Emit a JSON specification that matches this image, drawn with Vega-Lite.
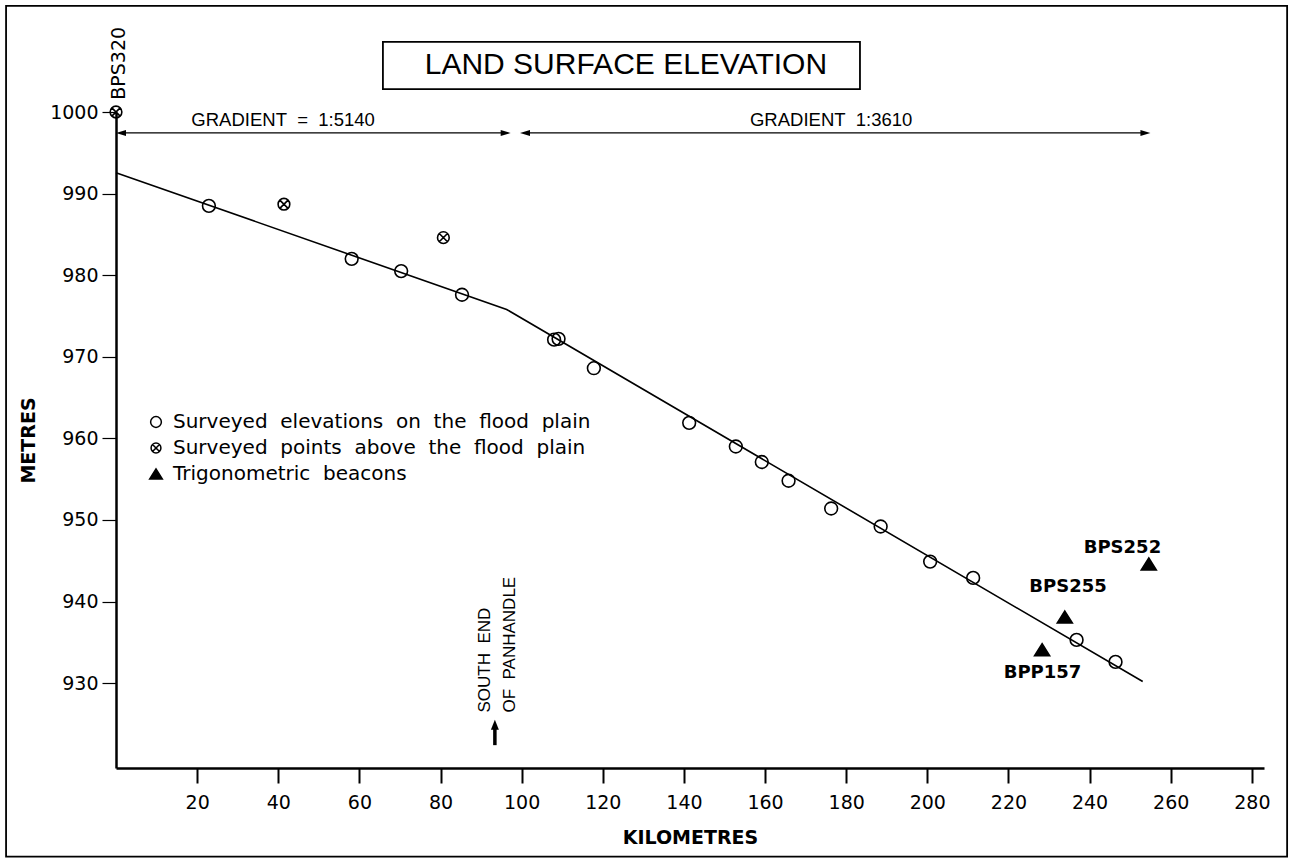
{
  "$schema": "https://vega.github.io/schema/vega-lite/v6.json",
  "width": 1148,
  "height": 656,
  "autosize": {"type": "none"},
  "padding": {"left": 116, "top": 112, "right": 26, "bottom": 90},
  "background": "white",
  "config": {"view": {"stroke": null}, "axis": {"grid": false}},
  "datasets": {
    "boxes": [
      {"name": "frame", "km": -27.1, "km2": 288.7, "m": 908.75, "m2": 1013.0},
      {"name": "titlebox", "km": 65.8, "km2": 183.4, "m": 1002.8, "m2": 1008.6}
    ],
    "fit": [
      {"km": 0, "m": 992.56},
      {"km": 96.3, "m": 975.8},
      {"km": 253.1, "m": 930.2}
    ],
    "arrows": [
      {"km": 1, "km2": 96.5, "m": 997.43},
      {"km": 100.5, "km2": 254, "m": 997.43}
    ],
    "heads": [
      {"km": 0, "m": 997.43, "dir": "left"},
      {"km": 99.6, "m": 997.43, "dir": "left"},
      {"km": 97.3, "m": 997.43, "dir": "right"},
      {"km": 255, "m": 997.43, "dir": "right"}
    ],
    "pan": [
      {"km": 93.4, "m": 922.4, "m2": 924.6}
    ],
    "panhead": [
      {"km": 93.4, "m": 925.5}
    ],
    "points": [
      {"km": 22.9, "m": 988.5, "type": "Surveyed elevations on the flood plain"},
      {"km": 58.1, "m": 982.0, "type": "Surveyed elevations on the flood plain"},
      {"km": 70.3, "m": 980.5, "type": "Surveyed elevations on the flood plain"},
      {"km": 85.3, "m": 977.6, "type": "Surveyed elevations on the flood plain"},
      {"km": 108.0, "m": 972.1, "type": "Surveyed elevations on the flood plain"},
      {"km": 109.1, "m": 972.2, "type": "Surveyed elevations on the flood plain"},
      {"km": 117.8, "m": 968.6, "type": "Surveyed elevations on the flood plain"},
      {"km": 141.3, "m": 961.9, "type": "Surveyed elevations on the flood plain"},
      {"km": 152.8, "m": 959.0, "type": "Surveyed elevations on the flood plain"},
      {"km": 159.2, "m": 957.1, "type": "Surveyed elevations on the flood plain"},
      {"km": 165.8, "m": 954.8, "type": "Surveyed elevations on the flood plain"},
      {"km": 176.3, "m": 951.4, "type": "Surveyed elevations on the flood plain"},
      {"km": 188.5, "m": 949.2, "type": "Surveyed elevations on the flood plain"},
      {"km": 200.7, "m": 944.9, "type": "Surveyed elevations on the flood plain"},
      {"km": 211.3, "m": 942.9, "type": "Surveyed elevations on the flood plain"},
      {"km": 236.8, "m": 935.3, "type": "Surveyed elevations on the flood plain"},
      {"km": 246.4, "m": 932.6, "type": "Surveyed elevations on the flood plain"},
      {"km": 0, "m": 1000, "type": "Surveyed points above the flood plain"},
      {"km": 41.4, "m": 988.7, "type": "Surveyed points above the flood plain"},
      {"km": 80.7, "m": 984.6, "type": "Surveyed points above the flood plain"},
      {"km": 228.3, "m": 934.1, "type": "Trigonometric beacons"},
      {"km": 233.9, "m": 938.1, "type": "Trigonometric beacons"},
      {"km": 254.6, "m": 944.6, "type": "Trigonometric beacons"}
    ],
    "beaconlabels": [
      {"km": 248.1, "m": 946.6, "label": "BPS252"},
      {"km": 234.7, "m": 941.8, "label": "BPS255"},
      {"km": 228.4, "m": 931.2, "label": "BPP157"}
    ],
    "toplabel": [
      {"km": 0.75, "m": 1001.5, "label": "BPS320"}
    ],
    "panlabels": [
      {"km": 91.0, "m": 926.4, "label": "SOUTH\u00a0\u00a0END"},
      {"km": 97.1, "m": 926.4, "label": "OF\u00a0\u00a0PANHANDLE"}
    ],
    "gradients": [
      {"km": 41.2, "m": 999.0, "label": "GRADIENT\u00a0\u00a0=\u00a0\u00a01:5140"},
      {"km": 176.3, "m": 999.0, "label": "GRADIENT\u00a0\u00a01:3610"}
    ],
    "title": [
      {"km": 125.7, "m": 1005.7, "label": "LAND\u00a0SURFACE\u00a0ELEVATION"}
    ]
  },
  "encoding": {
    "x": {
      "field": "km", "type": "quantitative",
      "scale": {"domain": [0, 283], "nice": false, "zero": false},
      "axis": {
        "values": [20, 40, 60, 80, 100, 120, 140, 160, 180, 200, 220, 240, 260, 280],
        "domainColor": "black", "domainWidth": 2.5,
        "tickColor": "black", "tickWidth": 2, "tickSize": 15,
        "labelFont": "DejaVu Sans", "labelFontSize": 19, "labelColor": "black",
        "labelPadding": 10, "labelFlush": false, "labelOverlap": false,
        "title": "KILOMETRES", "titleFont": "DejaVu Sans", "titleFontSize": 19,
        "titleFontWeight": "bold", "titleColor": "black", "titlePadding": 16
      }
    },
    "y": {
      "field": "m", "type": "quantitative",
      "scale": {"domain": [919.6, 1000], "nice": false, "zero": false},
      "axis": {
        "values": [930, 940, 950, 960, 970, 980, 990, 1000],
        "format": "d",
        "domainColor": "black", "domainWidth": 2.5,
        "tickColor": "black", "tickWidth": 1.2, "tickSize": 14,
        "labelFont": "DejaVu Sans", "labelFontSize": 19, "labelColor": "black",
        "labelPadding": 4, "labelFlush": false, "labelOverlap": false,
        "title": "METRES", "titleFont": "DejaVu Sans", "titleFontSize": 19,
        "titleFontWeight": "bold", "titleColor": "black", "titlePadding": 11
      }
    }
  },
  "layer": [
    {
      "data": {"name": "boxes"},
      "mark": {"type": "rect", "fillOpacity": 0, "stroke": "black", "strokeWidth": 1.8},
      "encoding": {"x2": {"field": "km2"}, "y2": {"field": "m2"}}
    },
    {
      "data": {"name": "fit"},
      "mark": {"type": "line", "color": "black", "strokeWidth": 1.6}
    },
    {
      "data": {"name": "arrows"},
      "mark": {"type": "rule", "color": "black", "strokeWidth": 1.2},
      "encoding": {"x2": {"field": "km2"}}
    },
    {
      "data": {"name": "heads"},
      "transform": [{"filter": "datum.dir === 'left'"}],
      "mark": {"type": "point", "shape": "M0,0L2,-0.6L2,0.6Z", "filled": true, "color": "black", "opacity": 1, "size": 100}
    },
    {
      "data": {"name": "heads"},
      "transform": [{"filter": "datum.dir === 'right'"}],
      "mark": {"type": "point", "shape": "M0,0L-2,-0.6L-2,0.6Z", "filled": true, "color": "black", "opacity": 1, "size": 100}
    },
    {
      "data": {"name": "pan"},
      "mark": {"type": "rule", "color": "black", "strokeWidth": 3.5},
      "encoding": {"y2": {"field": "m2"}}
    },
    {
      "data": {"name": "panhead"},
      "mark": {"type": "point", "shape": "M0,0L-0.8,2L0.8,2Z", "filled": true, "color": "black", "opacity": 1, "size": 100}
    },
    {
      "data": {"name": "points"},
      "mark": {"type": "point", "size": 225, "strokeWidth": 1.6, "opacity": 1},
      "encoding": {
        "shape": {
          "field": "type", "type": "nominal",
          "scale": {
            "domain": ["Surveyed elevations on the flood plain", "Surveyed points above the flood plain", "Trigonometric beacons"],
            "range": [
              "M-0.85,0A0.85,0.85,0,1,1,0.85,0A0.85,0.85,0,1,1,-0.85,0Z",
              "M-0.78,0A0.78,0.78,0,1,1,0.78,0A0.78,0.78,0,1,1,-0.78,0ZM-0.55,-0.55L0.55,0.55M-0.55,0.55L0.55,-0.55",
              "M0,-0.8L1,0.8L-1,0.8Z"
            ]
          },
          "legend": {
            "title": null, "orient": "none", "legendX": 30, "legendY": 300, "padding": 0,
            "labelFont": "DejaVu Sans", "labelFontSize": 20, "labelColor": "black", "labelLimit": 700,
            "labelExpr": "replace(datum.label, / /g, '\u00a0\u00a0')",
            "symbolSize": 160, "symbolStrokeWidth": 1.5, "symbolOpacity": 1,
            "rowPadding": 6, "labelOffset": 7
          }
        },
        "fill": {
          "field": "type", "type": "nominal",
          "scale": {
            "domain": ["Surveyed elevations on the flood plain", "Surveyed points above the flood plain", "Trigonometric beacons"],
            "range": ["transparent", "transparent", "black"]
          },
          "legend": {
            "title": null, "orient": "none", "legendX": 30, "legendY": 300, "padding": 0,
            "labelFont": "DejaVu Sans", "labelFontSize": 20, "labelColor": "black", "labelLimit": 700,
            "labelExpr": "replace(datum.label, / /g, '\u00a0\u00a0')",
            "symbolSize": 160, "symbolStrokeWidth": 1.5, "symbolOpacity": 1,
            "rowPadding": 6, "labelOffset": 7
          }
        },
        "stroke": {
          "field": "type", "type": "nominal",
          "scale": {
            "domain": ["Surveyed elevations on the flood plain", "Surveyed points above the flood plain", "Trigonometric beacons"],
            "range": ["black", "black", "black"]
          },
          "legend": {
            "title": null, "orient": "none", "legendX": 30, "legendY": 300, "padding": 0,
            "labelFont": "DejaVu Sans", "labelFontSize": 20, "labelColor": "black", "labelLimit": 700,
            "labelExpr": "replace(datum.label, / /g, '\u00a0\u00a0')",
            "symbolSize": 160, "symbolStrokeWidth": 1.5, "symbolOpacity": 1,
            "rowPadding": 6, "labelOffset": 7
          }
        }
      }
    },
    {
      "data": {"name": "beaconlabels"},
      "mark": {"type": "text", "font": "DejaVu Sans", "fontWeight": "bold", "fontSize": 18, "color": "black", "align": "center", "baseline": "middle"},
      "encoding": {"text": {"field": "label"}}
    },
    {
      "data": {"name": "toplabel"},
      "mark": {"type": "text", "font": "DejaVu Sans", "fontSize": 19, "color": "black", "align": "left", "baseline": "middle", "angle": 270},
      "encoding": {"text": {"field": "label"}}
    },
    {
      "data": {"name": "panlabels"},
      "mark": {"type": "text", "font": "Liberation Sans", "fontSize": 17, "color": "black", "align": "left", "baseline": "middle", "angle": 270},
      "encoding": {"text": {"field": "label"}}
    },
    {
      "data": {"name": "gradients"},
      "mark": {"type": "text", "font": "Liberation Sans", "fontSize": 18.5, "color": "black", "align": "center", "baseline": "middle"},
      "encoding": {"text": {"field": "label"}}
    },
    {
      "data": {"name": "title"},
      "mark": {"type": "text", "font": "Liberation Sans", "fontSize": 30, "color": "black", "align": "center", "baseline": "middle"},
      "encoding": {"text": {"field": "label"}}
    }
  ]
}
